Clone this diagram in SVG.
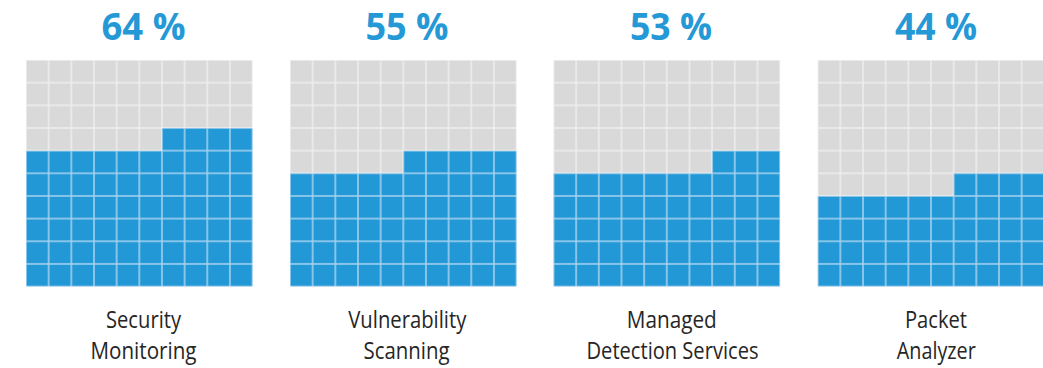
<svg xmlns="http://www.w3.org/2000/svg" xmlns:xlink="http://www.w3.org/1999/xlink" width="1043" height="368" viewBox="0 0 1043 368">
  <style>
    .pct { font-family: "Open Sans", "Liberation Sans", sans-serif; font-weight: 700; font-size: 38px; fill: #2599d6; text-anchor: middle; }
    .lbl { font-family: "Open Sans", "Liberation Sans", sans-serif; font-weight: 400; font-size: 24px; fill: #262626; text-anchor: middle; }
    .empty { fill: url(#cellGrey); }
    .filled { fill: url(#cellBlue); }
  </style>
  <defs>
    <!-- one waffle cell, 22.66 px pitch, thin light gap around each square -->
    <pattern id="cellGrey" patternUnits="userSpaceOnUse" x="0" y="0" width="22.66" height="22.66">
      <rect width="22.66" height="22.66" fill="#efefef"/>
      <rect x="0.75" y="0.75" width="21.16" height="21.16" fill="#d9d9d9"/>
    </pattern>
    <pattern id="cellBlue" patternUnits="userSpaceOnUse" x="0" y="0" width="22.66" height="22.66">
      <rect width="22.66" height="22.66" fill="#a8d4ef"/>
      <rect x="0.75" y="0.75" width="21.16" height="21.16" fill="#2398d6"/>
    </pattern>
  </defs>

  <rect width="1043" height="368" fill="#ffffff"/>

  <!-- Security Monitoring: 64 -->
  <g id="security-monitoring">
    <text class="pct" x="143.5" y="40" textLength="84" lengthAdjust="spacingAndGlyphs">64 %</text>
    <g transform="translate(26,60)">
      <rect class="empty" width="226.6" height="226.6"/>
      <path class="filled" d="M0,90.64 H135.96 V67.98 H226.6 V226.6 H0 Z"/>
    </g>
    <text class="lbl" x="143.5" y="327.5" textLength="75" lengthAdjust="spacingAndGlyphs">Security</text>
    <text class="lbl" x="143.5" y="359" textLength="106" lengthAdjust="spacingAndGlyphs">Monitoring</text>
  </g>

  <!-- Vulnerability Scanning: 55 -->
  <g id="vulnerability-scanning">
    <text class="pct" x="407" y="40" textLength="83" lengthAdjust="spacingAndGlyphs">55 %</text>
    <g transform="translate(290,60)">
      <rect class="empty" width="226.6" height="226.6"/>
      <path class="filled" d="M0,113.3 H113.3 V90.64 H226.6 V226.6 H0 Z"/>
    </g>
    <text class="lbl" x="407.3" y="327.5" textLength="118" lengthAdjust="spacingAndGlyphs">Vulnerability</text>
    <text class="lbl" x="406.5" y="359" textLength="86" lengthAdjust="spacingAndGlyphs">Scanning</text>
  </g>

  <!-- Managed Detection Services: 53 -->
  <g id="managed-detection-services">
    <text class="pct" x="671" y="40" textLength="82" lengthAdjust="spacingAndGlyphs">53 %</text>
    <g transform="translate(553.5,60)">
      <rect class="empty" width="226.6" height="226.6"/>
      <path class="filled" d="M0,113.3 H158.62 V90.64 H226.6 V226.6 H0 Z"/>
    </g>
    <text class="lbl" x="671.8" y="327.5" textLength="90" lengthAdjust="spacingAndGlyphs">Managed</text>
    <text class="lbl" x="672.5" y="359" textLength="172" lengthAdjust="spacingAndGlyphs">Detection Services</text>
  </g>

  <!-- Packet Analyzer: 44 -->
  <g id="packet-analyzer">
    <text class="pct" x="936" y="40" textLength="82" lengthAdjust="spacingAndGlyphs">44 %</text>
    <g transform="translate(817.7,60)">
      <rect class="empty" width="226.6" height="226.6"/>
      <path class="filled" d="M0,135.96 H135.96 V113.3 H226.6 V226.6 H0 Z"/>
    </g>
    <text class="lbl" x="936" y="327.5" textLength="62" lengthAdjust="spacingAndGlyphs">Packet</text>
    <text class="lbl" x="936.3" y="359" textLength="79" lengthAdjust="spacingAndGlyphs">Analyzer</text>
  </g>

  <!-- no connectors in this chart -->
  <g id="connectors"/>
</svg>
